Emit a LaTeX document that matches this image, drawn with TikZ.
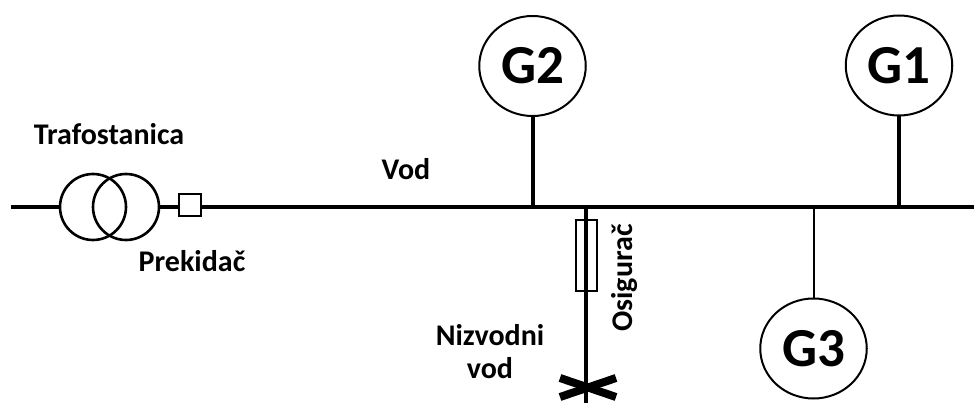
\documentclass[tikz,border=0pt]{standalone}
\usepackage{fontspec}
\usetikzlibrary{shapes.geometric}
\setmainfont{Carlito}
\begin{document}
\begin{tikzpicture}[x=1pt,y=-1pt,
  wire/.style={line width=3.6pt,black},
  thin wire/.style={line width=2.6pt,black},
  gen/.style={ellipse,draw,line width=2pt,minimum width=106.5pt,minimum height=100pt,inner sep=0pt,font=\bfseries\fontsize{55}{55}\selectfont},
  coil/.style={circle,draw,line width=2.6pt,minimum size=66pt,inner sep=0pt},
  lab/.style={font=\bfseries\fontsize{30}{33}\selectfont,align=center,inner sep=0pt}]
\useasboundingbox (0,0) rectangle (974,403);
\coordinate (L) at (11,207);
\coordinate (R) at (974,207);
\coordinate (J2) at (533,207);
\coordinate (J1) at (899,207);
\coordinate (J3) at (814,207);
\coordinate (JF) at (586,207);
\coordinate (E) at (586,403);
\node[gen] (G2) at (532.5,66) {G2};
\node[gen] (G1) at (899,65.5) {G1};
\node[gen] (G3) at (813.5,348.5) {\raisebox{-2pt}{G3}};
\node[coil] (T1) at (93,207) {};
\node[coil] (T2) at (126,207) {};
\node[rectangle,draw,line width=2pt,minimum width=22pt,minimum height=22pt,inner sep=0pt] (P) at (189.5,205.5) {};
\node[rectangle,draw,line width=2pt,minimum width=21pt,minimum height=70pt,inner sep=0pt] (F) at (586,255.5) {};
\draw[wire] (L) -- (T1.west);
\draw[wire] (T2.east) -- (P.west |- L);
\draw[wire] (P.east |- L) -- (R);
\draw[wire] (J2 |- G2.south) -- (J2);
\draw[wire] (J1 |- G1.south) -- (J1);
\draw[thin wire] (J3 |- G3.north) -- (J3);
\draw[wire] (JF) -- (E);
\coordinate (a) at (560,378);
\coordinate (b) at (616,397);
\coordinate (c) at (560,397);
\coordinate (d) at (616,378);
\draw[line width=8pt] (a) -- (b);
\draw[line width=8pt] (c) -- (d);
\node[lab] (t1) at (109,134) {Trafostanica};
\node[lab] (t2) at (192,261) {Prekidač};
\node[lab] (t3) at (406,169) {Vod};
\node[lab] (t4) at (490,352) {Nizvodni\\vod};
\node[lab,rotate=90] (t5) at (625,278) {Osigurač};
\end{tikzpicture}
\end{document}
